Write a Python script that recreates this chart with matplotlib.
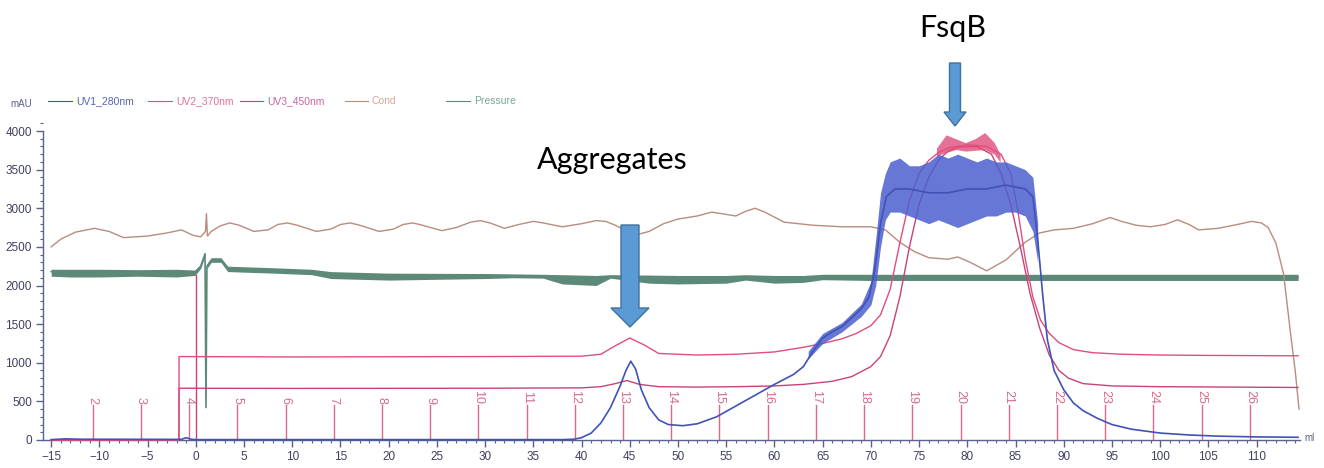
import matplotlib
matplotlib.use("Agg")
import matplotlib.pyplot as plt
from matplotlib.patches import Polygon
from matplotlib.ticker import MultipleLocator

# ---------------- data ----------------
uv1_ml = [-15, -13.5, -12, -1.5, -1.0, -0.5, 0, 38, 39.2, 40, 41, 42, 43, 44, 44.6, 45.1,
          45.6, 46.2, 47, 48, 49, 50.5, 52, 54, 56, 58, 60, 62, 63, 64, 65, 66, 67, 68, 69,
          69.8, 70.4, 71, 71.6, 72.5, 74, 76, 78, 80, 82, 84, 86, 86.8, 87.3, 87.8, 88.3,
          89, 90, 91, 92, 93.5, 95, 97, 100, 103, 106, 110, 114.3]
uv1_mau = [5, 15, 10, 8, 30, 10, 5, 5, 10, 30, 90, 220, 420, 700, 900, 1020,
           920, 650, 420, 260, 200, 185, 210, 300, 440, 580, 720, 850, 950, 1150, 1320, 1400, 1470, 1580, 1700,
           1850, 2200, 2800, 3150, 3250, 3250, 3200, 3200, 3250, 3250, 3300, 3250, 3150, 2600, 1900, 1300,
           900, 650, 480, 380, 280, 200, 140, 90, 65, 50, 40, 35]
# noisy envelope of UV1 around the main peak
uv1_band_ml = [63.5, 65, 67, 69, 70, 70.5, 71, 71.5, 72, 73, 74, 75, 76, 77, 78, 79, 80,
               81, 82, 83, 84, 85, 86, 86.8, 87.3]
uv1_band_lo = [1050, 1250, 1400, 1600, 1750, 2000, 2500, 2850, 2950, 2950, 2900, 2850, 2800,
               2850, 2800, 2750, 2800, 2850, 2900, 2900, 2950, 2950, 2900, 2700, 2300]
uv1_band_hi = [1150, 1380, 1520, 1760, 2050, 2600, 3200, 3450, 3600, 3650, 3550, 3550, 3600,
               3700, 3650, 3700, 3650, 3600, 3650, 3600, 3600, 3550, 3500, 3400, 2800]

uv2_ml = [-15, -1.75, -1.74, 10, 30, 40, 42, 43.5, 45, 46.5, 48, 52, 56, 60, 63, 65, 67, 68.5,
          70, 71, 72, 73, 74, 75, 76, 77, 78, 80, 82, 83.5, 84.5, 85.2, 86, 86.8, 87.6, 88.5,
          89.5, 91, 93, 96, 100, 105, 114.3]
uv2_mau = [0, 0, 1080, 1075, 1080, 1085, 1110, 1220, 1320, 1230, 1120, 1100, 1110, 1140, 1200,
           1250, 1310, 1380, 1480, 1620, 1950, 2550, 3100, 3450, 3620, 3720, 3780, 3820, 3800,
           3700, 3450, 3000, 2350, 1850, 1550, 1380, 1260, 1170, 1130, 1110, 1100, 1095, 1090]
uv2_band_ml = [76.8, 77.8, 78.8, 79.8, 80.8, 81.8, 82.8, 83.4]
uv2_band_lo = [3680, 3720, 3760, 3740, 3750, 3760, 3700, 3600]
uv2_band_hi = [3780, 3950, 3900, 3850, 3900, 3980, 3850, 3700]

uv3_ml = [-15, -1.75, -1.74, 10, 30, 40, 42, 43.5, 44.7, 46, 48, 52, 56, 60, 63, 66, 68, 70,
          71, 72, 73, 74, 75, 76, 77, 78, 79, 81, 82.5, 83.5, 84.5, 85.5, 86.5, 87.5, 88.5,
          89.5, 90.5, 92, 95, 100, 114.3]
uv3_mau = [0, 0, 670, 668, 670, 675, 690, 730, 770, 720, 690, 685, 690, 700, 720, 760, 820, 950,
           1080, 1350, 1850, 2500, 3050, 3400, 3620, 3740, 3790, 3800, 3700, 3450, 3050, 2500,
           1900, 1450, 1100, 900, 800, 730, 700, 690, 680]

cond_ml = [-15, -14, -12.5, -10.5, -9, -7.5, -5, -3, -1.5, -0.3, 0.5, 1.0, 1.1, 1.2, 1.6,
           2.5, 3.5, 4.5, 6, 7.5, 8.5, 9.5, 10.5, 12.5, 14, 15, 16, 17, 19, 20.5, 21.5, 22.5,
           23.5, 25.5, 27, 28.5, 29.5, 30.5, 32, 33.5, 35, 36, 38, 40, 41.5, 42.5, 43.5, 45.5,
           47, 48.5, 50, 52, 53.5, 55, 56, 57, 58, 59, 61, 64, 67, 70, 71.5, 73, 74.5, 76, 78,
           79, 80.3, 82, 84, 86, 87.5, 89, 91, 93, 94.8, 96, 97.5, 99, 100.5, 101.8, 103, 104,
           106, 108, 109.5, 110.5, 111.2, 112, 112.8, 113.5, 114, 114.4]
cond_val = [2500, 2600, 2690, 2740, 2700, 2620, 2640, 2680, 2720, 2650, 2630, 2700, 2930, 2640,
            2700, 2770, 2810, 2780, 2700, 2720, 2790, 2810, 2780, 2700, 2730, 2790, 2810, 2780,
            2700, 2730, 2790, 2810, 2780, 2710, 2750, 2820, 2840, 2810, 2740, 2790, 2830, 2810,
            2760, 2800, 2840, 2830, 2780, 2650, 2700, 2800, 2860, 2900, 2950, 2920, 2900, 2960,
            3000, 2950, 2820, 2780, 2760, 2760, 2720, 2560, 2440, 2360, 2340, 2370, 2300, 2190,
            2330, 2560, 2680, 2720, 2740, 2800, 2880, 2830, 2780, 2760, 2790, 2850, 2790, 2720,
            2740, 2790, 2830, 2810, 2750, 2550, 2150, 1400, 900, 400]

press_ml = [-15, -13, -10, -6, -2, -0.1, 0.5, 0.95, 1.05, 1.15, 1.6, 2.6, 3.3, 8, 12, 14, 20,
            30, 33, 36, 38, 41.5, 43, 47, 50, 55, 57, 60, 63, 65, 70, 80, 90, 100, 114.3]
press_mid = [2180, 2180, 2180, 2175, 2180, 2170, 2250, 2410, 420, 2250, 2330, 2330, 2220, 2200,
             2180, 2150, 2130, 2130, 2125, 2120, 2110, 2090, 2115, 2100, 2090, 2090, 2100, 2090,
             2090, 2110, 2105, 2105, 2105, 2105, 2105]
press_lo = [2120, 2110, 2110, 2120, 2110, 2130, 2220, 2380, 420, 2220, 2300, 2300, 2180, 2160,
            2140, 2090, 2070, 2090, 2100, 2095, 2020, 2000, 2095, 2030, 2020, 2030, 2070, 2030,
            2040, 2075, 2065, 2065, 2065, 2065, 2065]
press_hi = [2210, 2210, 2210, 2205, 2210, 2200, 2270, 2430, 430, 2280, 2360, 2360, 2250, 2230,
            2210, 2180, 2160, 2155, 2150, 2145, 2140, 2130, 2140, 2135, 2130, 2130, 2140, 2130,
            2130, 2145, 2145, 2145, 2145, 2145, 2145]

inject_ml = [0.0]
inject_top = [2130]

frac_ml = [-10.7, -5.7, -0.7, 4.3, 9.3, 14.3, 19.3, 24.3, 29.3, 34.3, 39.3, 44.3, 49.3, 54.3,
           59.3, 64.3, 69.3, 74.3, 79.3, 84.3, 89.3, 94.3, 99.3, 104.3, 109.3]
frac_labels = [str(k) for k in range(2, 27)]
frac_height = 450

legend_names = ["UV1_280nm", "UV2_370nm", "UV3_450nm", "Cond", "Pressure"]

# ---------------- styling ----------------
C_UV1 = "#4052b6"
C_UV1_BAND = "#4c5fcf"
C_UV2 = "#e04e7c"
C_UV3 = "#c8427a"
C_COND = "#b98c7e"
C_PRESS = "#5d8a78"
C_FRAC = "#d76a88"
C_AXIS = "#5a6290"
C_TICKTXT = "#3e4060"
ARROW_FC = "#5b9bd5"
ARROW_EC = "#41719c"

W, H = 1324, 468
fig = plt.figure(figsize=(W / 100, H / 100), dpi=100)

px_per_mau = 309 / 4000.0
y0_px = 440
ytop = 4100
ax_left_px, ax_right_px = 43, 1300
ax = fig.add_axes([ax_left_px / W, (H - y0_px) / H,
                   (ax_right_px - ax_left_px) / W, ytop * px_per_mau / H])
ax.set_xlim(-15.85, 114.5)
ax.set_ylim(0, ytop)

# pressure
ax.fill_between(press_ml, press_lo, press_hi, color=C_PRESS, lw=0, clip_on=False, zorder=2)
ax.plot(press_ml, press_mid, color=C_PRESS, lw=1.2, clip_on=False, zorder=2)
# conductivity
ax.plot(cond_ml, cond_val, color=C_COND, lw=1.0, clip_on=False, zorder=3)
# injection mark
for x, t in zip(inject_ml, inject_top):
    ax.plot([x, x], [0, t], color=C_UV3, lw=1.0, zorder=3)
# fractions
for x, lab in zip(frac_ml, frac_labels):
    ax.plot([x, x], [0, frac_height], color=C_FRAC, lw=1.0, zorder=3)
    ax.text(x, frac_height + 15, lab, rotation=270, ha="center", va="bottom",
            color=C_FRAC, fontsize=9, family="Liberation Sans", zorder=3)
# UV traces
ax.plot(uv3_ml, uv3_mau, color=C_UV3, lw=1.0, clip_on=False, zorder=4)
ax.fill_between(uv2_band_ml, uv2_band_lo, uv2_band_hi, color=C_UV2, lw=0, alpha=0.8,
                clip_on=False, zorder=4)
ax.plot(uv2_ml, uv2_mau, color=C_UV2, lw=1.0, clip_on=False, zorder=4)
ax.fill_between(uv1_band_ml, uv1_band_lo, uv1_band_hi, color=C_UV1_BAND, lw=0, alpha=0.85,
                clip_on=False, zorder=5)
ax.plot(uv1_ml, uv1_mau, color=C_UV1, lw=1.2, clip_on=False, zorder=5)

# axes styling
for s in ["top", "right"]:
    ax.spines[s].set_visible(False)
ax.spines["left"].set_bounds(0, 4000)
for s in ["left", "bottom"]:
    ax.spines[s].set_color(C_AXIS)
    ax.spines[s].set_linewidth(1.0)
ax.xaxis.set_major_locator(MultipleLocator(5))
ax.xaxis.set_minor_locator(MultipleLocator(1))
ax.yaxis.set_major_locator(MultipleLocator(500))
ax.yaxis.set_minor_locator(MultipleLocator(100))
ax.set_xticks(list(range(-15, 111, 5)))
ax.set_yticks(list(range(0, 4001, 500)))
ax.tick_params(which="major", length=5, width=1, color=C_AXIS, labelcolor=C_TICKTXT,
               labelsize=8.5, pad=3)
ax.tick_params(which="minor", length=2.5, width=0.8, color=C_AXIS)
for lab in ax.get_xticklabels() + ax.get_yticklabels():
    lab.set_family("Liberation Sans")

# unit labels
fig.text(10 / W, 1 - 104 / H, "mAU", fontsize=7, color=C_AXIS, family="Liberation Sans",
         va="center")
fig.text(1304 / W, 1 - 438 / H, "ml", fontsize=7, color=C_AXIS, family="Liberation Sans",
         va="center")

# legend (custom, in the style of the instrument software)
leg_line_x = [(48, 72), (148, 172), (240, 263), (345, 368), (446, 470)]
leg_colors = [C_UV1, C_UV2, C_UV3, C_COND, C_PRESS]
leg_txt_colors = ["#5565b5", "#e07394", "#c864a4", "#d6a896", "#7aa898"]
ly = 1 - 101 / H
for (a, b), c, tc, name in zip(leg_line_x, leg_colors, leg_txt_colors, legend_names):
    fig.add_artist(plt.Line2D([a / W, b / W], [ly, ly], color=c, lw=0.8,
                              transform=fig.transFigure))
    fig.text((b + 4) / W, ly, name, fontsize=7.5, color=tc, family="Liberation Sans",
             va="center", ha="left")


def arrow(cx, top, head_base, tip, half_shaft, half_head):
    pts = [(cx - half_shaft, top), (cx + half_shaft, top), (cx + half_shaft, head_base),
           (cx + half_head, head_base), (cx, tip), (cx - half_head, head_base),
           (cx - half_shaft, head_base)]
    pts = [(x / W, 1 - y / H) for x, y in pts]
    fig.add_artist(Polygon(pts, closed=True, facecolor=ARROW_FC, edgecolor=ARROW_EC,
                           lw=1.0, transform=fig.transFigure, zorder=10))


arrow(630, 225, 308, 327, 9, 19)
arrow(955, 63, 112, 126, 5.5, 11)

fig.text(612 / W, 1 - 160 / H, "Aggregates", fontsize=22, family="Lato", color="black",
         ha="center", va="center")
fig.text(953 / W, 1 - 28 / H, "FsqB", fontsize=22, family="Lato", color="black",
         ha="center", va="center")

fig.savefig("out.png", dpi=100)
